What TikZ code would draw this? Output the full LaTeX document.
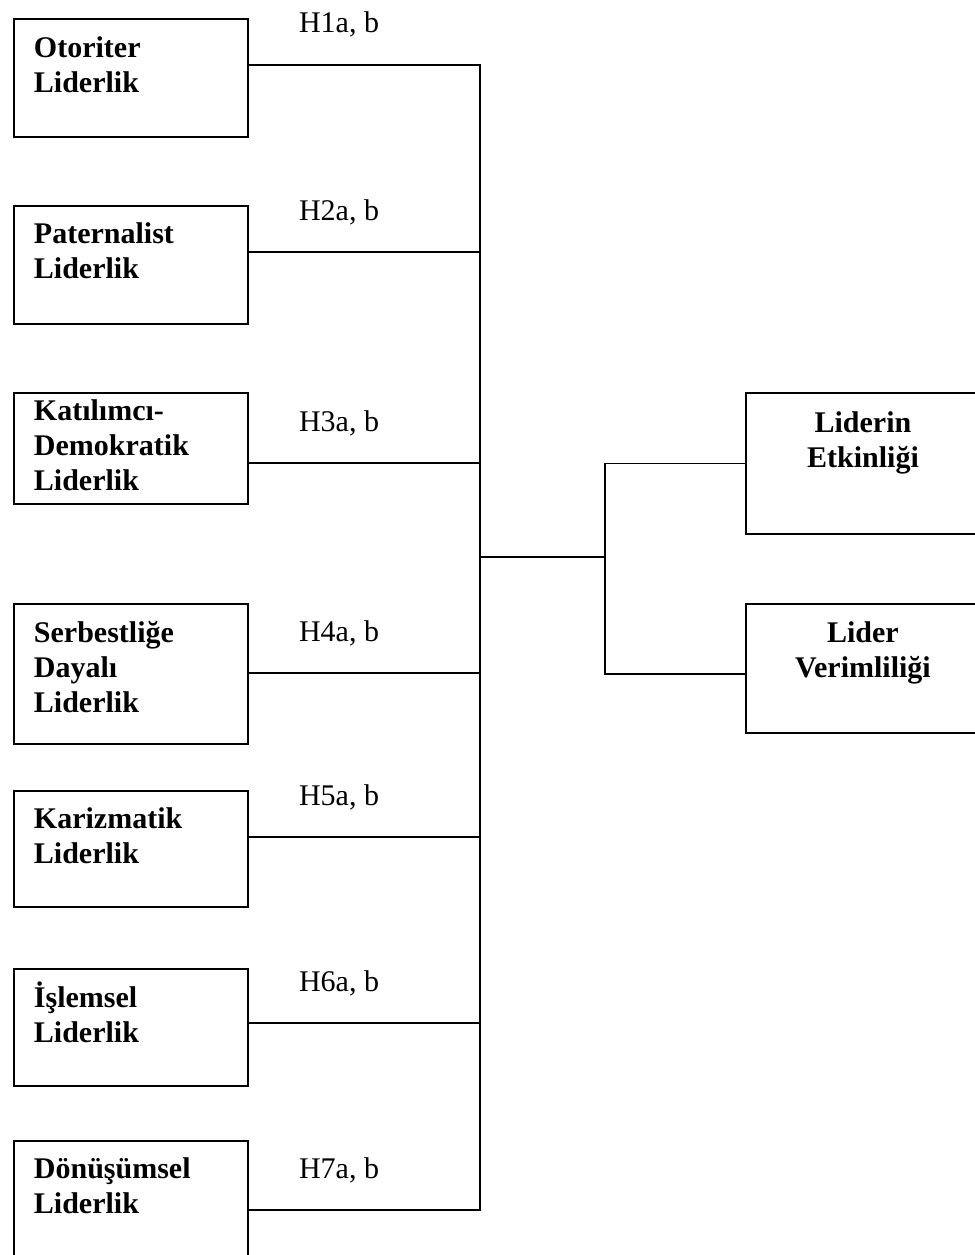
\documentclass[tikz,border=0pt]{standalone}
\usepackage{fontspec}
\setmainfont{Liberation Serif}
\usetikzlibrary{positioning,calc}
% text block inside a box: top gap, box height, lines
\newcommand{\boxtext}[4][\raggedright]{\parbox[t][#3][t]{145.5pt}{#1\vspace*{#2}\rule{0pt}{21pt}#4}}
\tikzset{
  lbox/.style={draw, line width=1.45pt, anchor=north west, inner xsep=15pt, inner ysep=0pt,
    font=\bfseries\fontsize{22.5}{26.25}\selectfont},
  rbox/.style={lbox},
  link/.style={line width=1.45pt},
  hlab/.style={anchor=base, yshift=24pt, inner sep=0pt, pos=.39,
    font=\fontsize{22.5}{26.25}\selectfont},
}
\begin{document}
\begin{tikzpicture}[x=0.75pt, y=-0.75pt]
  \useasboundingbox (0,0) rectangle (974,1255);
  % styles of leadership
  \node[lbox] (oto) at (13,18)   {\boxtext{8.25pt}{88.5pt}{Otoriter\\Liderlik}};
  \node[lbox] (pat) at (13,205)  {\boxtext{7.5pt}{88.5pt}{Paternalist\\Liderlik}};
  \node[lbox] (kat) at (13,392)  {\boxtext{0pt}{83.25pt}{Katılımcı-\\Demokratik\\Liderlik}};
  \node[lbox] (ser) at (13,603)  {\boxtext{8.25pt}{105pt}{Serbestliğe\\Dayalı\\Liderlik}};
  \node[lbox] (kar) at (13,790)  {\boxtext{7.5pt}{87pt}{Karizmatik\\Liderlik}};
  \node[lbox] (isl) at (13,968)  {\boxtext{8.25pt}{87.75pt}{İşlemsel\\Liderlik}};
  \node[lbox] (don) at (13,1140) {\boxtext{7.5pt}{93.75pt}{Dönüşümsel\\Liderlik}};
  % outcomes
  \node[rbox] (etk) at (745,392) {\boxtext[\centering]{9pt}{105.75pt}{Liderin\\Etkinliği}};
  \node[rbox] (ver) at (745,603) {\boxtext[\centering]{8.25pt}{96.75pt}{Lider\\Verimliliği}};

  \coordinate (bus) at (480,557);
  \coordinate (fork) at (605,557);

  \draw[link] ([yshift=-35.25pt]oto.north east) coordinate (a1) -- node[hlab]{H1a, b} (a1 -| bus) -- (bus);
  \draw[link] ([yshift=-35.25pt]pat.north east) coordinate (a2) -- node[hlab]{H2a, b} (a2 -| bus) -- (bus);
  \draw[link] ([yshift=-53.25pt]kat.north east) coordinate (a3) -- node[hlab]{H3a, b} (a3 -| bus) -- (bus);
  \draw[link] ([yshift=-52.5pt]ser.north east) coordinate (a4) -- node[hlab]{H4a, b} (a4 -| bus) -- (bus);
  \draw[link] ([yshift=-35.25pt]kar.north east) coordinate (a5) -- node[hlab]{H5a, b} (a5 -| bus) -- (bus);
  \draw[link] ([yshift=-41.25pt]isl.north east) coordinate (a6) -- node[hlab]{H6a, b} (a6 -| bus) -- (bus);
  \draw[link] ([yshift=-52.5pt]don.north east) coordinate (a7) -- node[hlab]{H7a, b} (a7 -| bus) -- (bus);

  \draw[link] (bus) -- (fork);
  \draw[link] (fork) |- (etk.west);
  \draw[link] (fork) |- ([yshift=-4.1pt]ver.west);
\end{tikzpicture}
\end{document}
